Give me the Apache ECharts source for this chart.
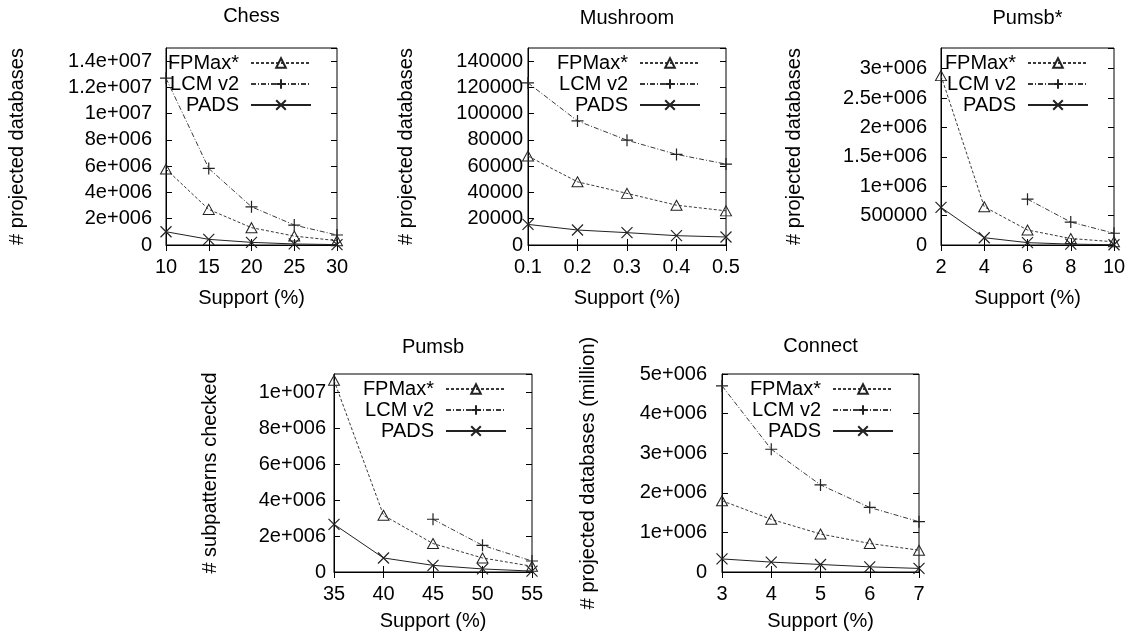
<!DOCTYPE html>
<html>
<head>
<meta charset="utf-8">
<script src="https://cdn.jsdelivr.net/npm/echarts@6/dist/echarts.min.js"></script>
<style>
  html, body { margin: 0; padding: 0; background: #fff; }
  #chart { width: 1133px; height: 641px; }
</style>
</head>
<body>
<div id="chart"></div>
<script>
// Algorithms compared in every panel
const seriesNames = ['FPMax*', 'LCM v2', 'PADS'];

// Chess
const chessSupport = [10, 15, 20, 25, 30];
const chessFPMax = [5780000, 2710000, 1320000, 680000, 330000];
const chessLCM = [12700000, 5830000, 2910000, 1520000, 760000];
const chessPADS = [1010000, 430000, 200000, 80000, 30000];

// Mushroom
const mushroomSupport = [0.1, 0.2, 0.3, 0.4, 0.5];
const mushroomFPMax = [67700, 48100, 39300, 30300, 26000];
const mushroomLCM = [123400, 94500, 79800, 69000, 61600];
const mushroomPADS = [15700, 11400, 9400, 7100, 6100];

// Pumsb*
const pumsbStarSupport = [2, 4, 6, 8, 10];
const pumsbStarFPMax = [2880000, 650000, 255000, 110000, 55000];
const pumsbStarLCM = [null, null, 780000, 390000, 200000];
const pumsbStarPADS = [640000, 124000, 40000, 15000, 5000];

// Pumsb
const pumsbSupport = [35, 40, 45, 50, 55];
const pumsbFPMax = [10650000, 3150000, 1580000, 780000, 320000];
const pumsbLCM = [null, null, 2930000, 1480000, 610000];
const pumsbPADS = [2650000, 780000, 370000, 170000, 50000];

// Connect
const connectSupport = [3, 4, 5, 6, 7];
const connectFPMax = [1800000, 1330000, 960000, 720000, 550000];
const connectLCM = [4700000, 3100000, 2200000, 1630000, 1270000];
const connectPADS = [330000, 250000, 190000, 130000, 90000];

// Axis ranges and tick steps
const chessTicks = { xMin: 10, xMax: 30, xStep: 5, yMax: 15000000, yStep: 2000000 };
const mushroomTicks = { xMin: 0.1, xMax: 0.5, xStep: 0.1, yMax: 150000, yStep: 20000 };
const pumsbStarTicks = { xMin: 2, xMax: 10, xStep: 2, yMax: 3350000, yStep: 500000 };
const pumsbTicks = { xMin: 35, xMax: 55, xStep: 5, yMax: 11000000, yStep: 2000000 };
const connectTicks = { xMin: 3, xMax: 7, xStep: 1, yMax: 5000000, yStep: 1000000 };

const xTitle = 'Support (%)';

const FONT = "'Liberation Sans', Arial, Helvetica, sans-serif";
const W = 1133;

// printf("%g")-style labels with three-digit exponents
function gnuplotNumber(v) {
  if (v === 0) return '0';
  const e = Math.floor(Math.log10(Math.abs(v)) + 1e-9);
  if (e < 6) return String(+v.toPrecision(6));
  const m = +(v / Math.pow(10, e)).toPrecision(6);
  return m + 'e+' + String(e).padStart(3, '0');
}

const panels = [
  { title: 'Chess', yName: '# projected databases', x: chessSupport,
    ys: [chessFPMax, chessLCM, chessPADS], ticks: chessTicks,
    box: { left: 166, top: 48, width: 171, height: 197 },
    titleTop: 6, yLabelMargin: 14, yNameGap: 139, xNameGap: 43 },
  { title: 'Mushroom', yName: '# projected databases', x: mushroomSupport,
    ys: [mushroomFPMax, mushroomLCM, mushroomPADS], ticks: mushroomTicks,
    box: { left: 528, top: 48, width: 198, height: 197 },
    titleTop: 8, yLabelMargin: 5, yNameGap: 112, xNameGap: 43 },
  { title: 'Pumsb*', yName: '# projected databases', x: pumsbStarSupport,
    ys: [pumsbStarFPMax, pumsbStarLCM, pumsbStarPADS], ticks: pumsbStarTicks,
    box: { left: 941, top: 48, width: 173, height: 197 },
    titleTop: 8, yLabelMargin: 14, yNameGap: 137, xNameGap: 43 },
  { title: 'Pumsb', yName: '# subpatterns checked', x: pumsbSupport,
    ys: [pumsbFPMax, pumsbLCM, pumsbPADS], ticks: pumsbTicks,
    box: { left: 334, top: 374, width: 198, height: 198 },
    titleTop: 337, yLabelMargin: 8, yNameGap: 114, xNameGap: 39 },
  { title: 'Connect', yName: '# projected databases (million)', x: connectSupport,
    ys: [connectFPMax, connectLCM, connectPADS], ticks: connectTicks,
    box: { left: 722, top: 374, width: 197, height: 198 },
    titleTop: 336, yLabelMargin: 15, yNameGap: 124, xNameGap: 39 }
];

const PLUS = 'path://M5,0L5,10M0,5L10,5';
const CROSS = 'path://M0,0L10,10M0,10L10,0';

const seriesStyles = [
  { symbol: 'triangle', symbolSize: [11, 10],
    itemStyle: { color: 'rgba(255,255,255,0)', borderColor: '#222', borderWidth: 1 },
    lineStyle: { color: '#3a3a3a', width: 1, type: [3, 2] } },
  { symbol: PLUS, symbolSize: 12,
    itemStyle: { color: 'rgba(255,255,255,0)', borderColor: '#222', borderWidth: 1.2 },
    lineStyle: { color: '#3a3a3a', width: 1, type: [5, 2, 1, 2] } },
  { symbol: CROSS, symbolSize: 11,
    itemStyle: { color: 'rgba(255,255,255,0)', borderColor: '#222', borderWidth: 1.2 },
    lineStyle: { color: '#222', width: 1, type: 'solid' } }
];

const textBase = { fontFamily: FONT, fontSize: 20, color: '#000' };

const option = {
  animation: false,
  backgroundColor: '#fff',
  textStyle: { fontFamily: FONT },
  title: [], grid: [], xAxis: [], yAxis: [], legend: [], series: []
};

panels.forEach(function (p, i) {
  const t = p.ticks;
  const right = p.box.left + p.box.width;
  option.grid.push(Object.assign({
    show: true, borderColor: '#000', borderWidth: 1, backgroundColor: 'transparent',
    containLabel: false, outerBoundsMode: 'none'
  }, p.box));

  option.title.push({
    text: p.title, left: p.box.left + p.box.width / 2, top: p.titleTop,
    textAlign: 'center', padding: 0,
    textStyle: Object.assign({ fontWeight: 'normal' }, textBase)
  });

  const tick = { show: true, inside: true, length: 6, lineStyle: { color: '#000', width: 1 } };

  option.xAxis.push({
    type: 'value', gridIndex: i, position: 'bottom',
    min: t.xMin, max: t.xMax, interval: t.xStep,
    axisLine: { show: true, lineStyle: { color: '#000', width: 1 } },
    axisTick: tick,
    axisLabel: Object.assign({ margin: 12 }, textBase),
    splitLine: { show: false },
    name: xTitle, nameLocation: 'middle', nameGap: p.xNameGap,
    nameTextStyle: textBase
  });
  option.xAxis.push({
    type: 'value', gridIndex: i, position: 'top',
    min: t.xMin, max: t.xMax, interval: t.xStep,
    axisLine: { show: false }, axisTick: tick,
    axisLabel: { show: false }, splitLine: { show: false }
  });

  const yAligned = Math.abs(t.yMax / t.yStep - Math.round(t.yMax / t.yStep)) < 1e-9;
  option.yAxis.push({
    type: 'value', gridIndex: i, position: 'left',
    min: 0, max: t.yMax, interval: t.yStep,
    axisLine: { show: true, lineStyle: { color: '#000', width: 1 } },
    axisTick: tick,
    axisLabel: Object.assign({ margin: p.yLabelMargin, formatter: gnuplotNumber,
      showMaxLabel: yAligned }, textBase),
    splitLine: { show: false },
    name: p.yName, nameLocation: 'middle', nameGap: p.yNameGap,
    nameTextStyle: textBase
  });
  option.yAxis.push({
    type: 'value', gridIndex: i, position: 'right',
    min: 0, max: t.yMax, interval: t.yStep,
    axisLine: { show: false }, axisTick: tick,
    axisLabel: { show: false }, splitLine: { show: false }
  });

  option.legend.push({
    orient: 'vertical', align: 'right',
    right: W - (right - 25), top: p.box.top + 5,
    padding: 0, itemWidth: 60, itemHeight: 12, itemGap: 1,
    selectedMode: false,
    data: seriesNames.slice(),
    textStyle: Object.assign({ padding: [0, 7, 0, 0] }, textBase)
  });

  seriesNames.forEach(function (name, k) {
    const ys = p.ys[k];
    option.series.push(Object.assign({
      type: 'line', name: name,
      xAxisIndex: 2 * i, yAxisIndex: 2 * i,
      data: p.x.map(function (xv, j) { return [xv, ys[j]]; }),
      showSymbol: true, clip: false, connectNulls: false,
      emphasis: { disabled: true }, silent: true
    }, seriesStyles[k]));
  });
});

const chart = echarts.init(document.getElementById('chart'), null, { renderer: 'canvas' });
chart.setOption(option);
</script>
</body>
</html>
